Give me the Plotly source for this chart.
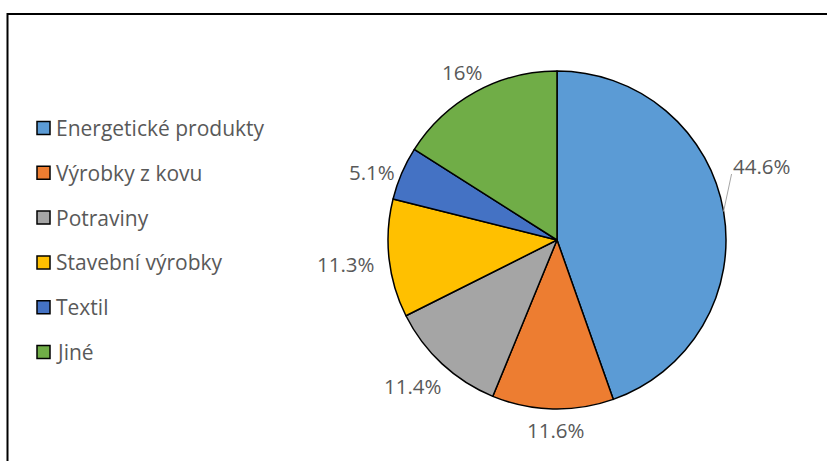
import math
import plotly.graph_objects as go

labels = ["Energetické produkty", "Výrobky z kovu", "Potraviny", "Stavební výrobky", "Textil", "Jiné"]
values = [44.6, 11.6, 11.4, 11.3, 5.1, 16.0]
text_labels = ["44.6%", "11.6%", "11.4%", "11.3%", "5.1%", "16%"]
colors = ["#5B9BD5", "#ED7D31", "#A5A5A5", "#FFC000", "#4472C4", "#70AD47"]

W, H = 827, 461
FONT = "Open Sans"
TXT = "#595959"

cx, cy, r = 557, 240, 169

# data-label placement (pixel centres, layout only)
label_pos = [(762, 166), (556, 430), (413, 386), (346, 264), (372, 172), (462, 72)]

fig = go.Figure(go.Pie(
    labels=labels,
    values=values,
    textinfo="none",
    sort=False,
    direction="clockwise",
    rotation=0,
    marker=dict(colors=colors, line=dict(color="#000000", width=1.5)),
    domain=dict(x=[(cx - r) / W, (cx + r) / W], y=[1 - (cy + r) / H, 1 - (cy - r) / H]),
    showlegend=False,
    hoverinfo="label+percent",
    automargin=False,
))

shapes = [dict(type="rect", xref="paper", yref="paper",
               x0=7.5 / W, x1=1.05, y0=-0.05, y1=1 - 14 / H,
               line=dict(color="#000000", width=2), fillcolor="rgba(0,0,0,0)", layer="below")]
annotations = []

# legend
row0, step = 128, 44.8
for i, (lab, col) in enumerate(zip(labels, colors)):
    yc = row0 + i * step
    shapes.append(dict(type="rect", xref="paper", yref="paper",
                       x0=37 / W, x1=50 / W, y0=1 - (yc + 6.5) / H, y1=1 - (yc - 6.5) / H,
                       fillcolor=col, line=dict(color="#000000", width=1.5)))
    annotations.append(dict(xref="paper", yref="paper", x=54 / W, y=1 - yc / H,
                            xanchor="left", yanchor="middle", showarrow=False,
                            text=lab, font=dict(family=FONT, size=21, color=TXT)))

# data labels
for t, (px, py) in zip(text_labels, label_pos):
    annotations.append(dict(xref="paper", yref="paper", x=px / W, y=1 - py / H,
                            xanchor="center", yanchor="middle", showarrow=False,
                            text=t, font=dict(family=FONT, size=20.5, color=TXT)))

# leader line for the largest slice: from the rim at its mid-angle toward its label
total = sum(values)
ang = math.radians(360 * values[0] / total * 0.5)
ex, ey = cx + r * math.sin(ang), cy - r * math.cos(ang)
shapes.append(dict(type="line", xref="paper", yref="paper",
                   x0=ex / W, y0=1 - ey / H, x1=(ex + 8) / W, y1=1 - (label_pos[0][1] + 8) / H,
                   line=dict(color="#A6A6A6", width=1)))

fig.update_layout(
    width=W, height=H,
    margin=dict(l=0, r=0, t=0, b=0),
    paper_bgcolor="white", plot_bgcolor="white",
    shapes=shapes, annotations=annotations,
)
fig.write_html("out.html", post_script="document.body.style.margin='0';",
               config={"displayModeBar": False})
